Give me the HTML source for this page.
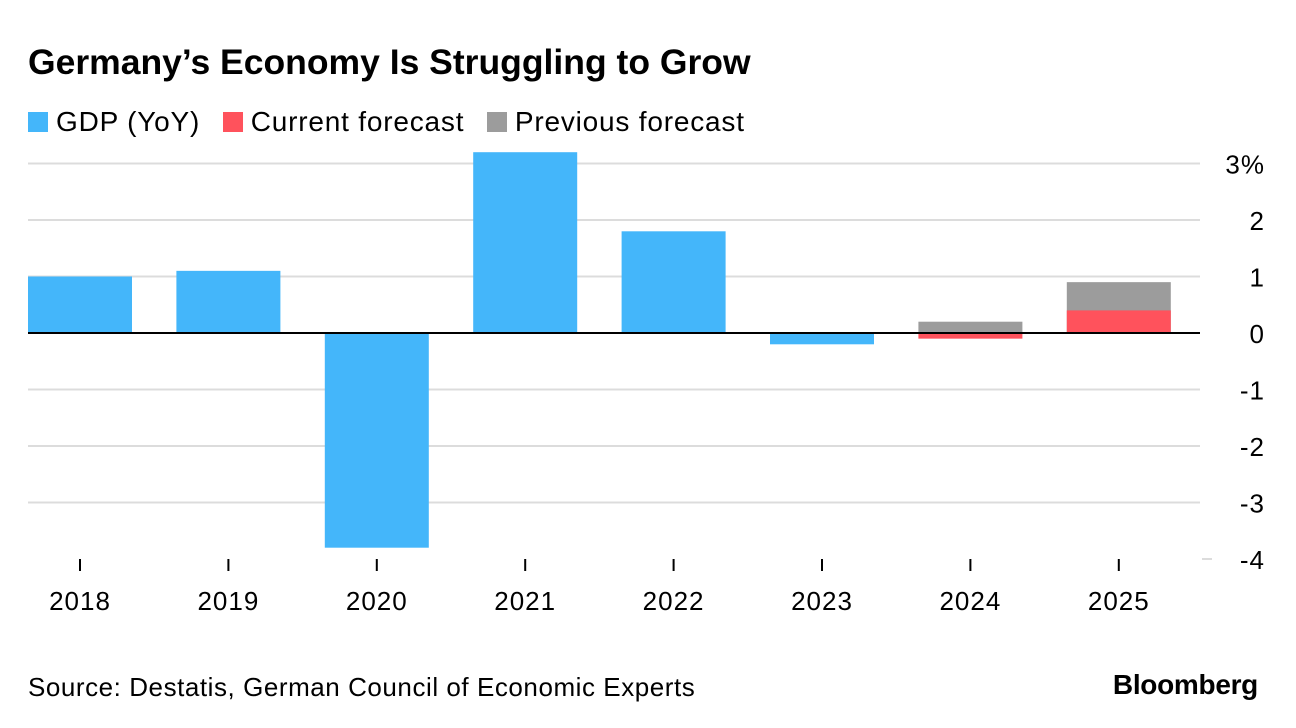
<!DOCTYPE html>
<html><head><meta charset="utf-8"><style>
body{margin:0;background:#fff;font-family:"Liberation Sans",sans-serif;}
#wrap{position:relative;width:1296px;height:728px;overflow:hidden}
.t{position:absolute;white-space:nowrap;color:#000}
</style></head><body>
<div id="wrap">
<div class="t" style="left:28px;top:42px;font-size:35.5px;font-weight:bold">Germany’s Economy Is Struggling to Grow</div>
<div class="t" style="left:28px;top:106px;font-size:28px;letter-spacing:0.8px">
<span><span style="display:inline-block;width:20px;height:20px;background:#44b6fa;vertical-align:-1px;margin-right:8px"></span>GDP (YoY)</span>
<span style="margin-left:14px"><span style="display:inline-block;width:20px;height:20px;background:#ff525c;vertical-align:-1px;margin-right:8px"></span>Current forecast</span>
<span style="margin-left:14px"><span style="display:inline-block;width:20px;height:20px;background:#9c9c9c;vertical-align:-1px;margin-right:8px"></span>Previous forecast</span>
</div>
<svg id="chart" width="1296" height="728" style="position:absolute;left:0;top:0"></svg>
<div class="t" style="left:28px;top:672px;font-size:26px;letter-spacing:0.55px">Source: Destatis, German Council of Economic Experts</div>
<div class="t" style="right:38px;top:669px;font-size:28px;font-weight:bold;letter-spacing:-0.3px">Bloomberg</div>
</div>
<script>
const years=["2018","2019","2020","2021","2022","2023","2024","2025"];
const gdp=[1.0,1.1,-3.8,3.2,1.8,-0.2,null,null];
const currentForecast=[null,null,null,null,null,null,-0.1,0.4];
const previousForecast=[null,null,null,null,null,null,0.2,0.9];
const yTicks=[3,2,1,0,-1,-2,-3,-4];
const yTickLabels=["3%","2","1","0","-1","-2","-3","-4"];
const NS="http://www.w3.org/2000/svg";
const svg=document.getElementById('chart');
const y=v=>333-v*56.5;
const x0=28,step=148.4,bw=104;
const xc=i=>x0+i*step+bw/2;
function mk(t,a){const e=document.createElementNS(NS,t);for(const k in a)e.setAttribute(k,a[k]);svg.appendChild(e);return e;}
yTicks.forEach((v,i)=>{
  if(v!==0&&v!==-4){const g=mk('line',{x1:28,x2:1200,y1:y(v),y2:y(v),stroke:'#dcdcdc','stroke-width':2});
  
  }
  if(v===-4){const g=mk('line',{x1:1202,x2:1212,y1:y(v),y2:y(v),stroke:'#dcdcdc','stroke-width':2});
  
  }
  const t=mk('text',{x:1265,y:y(v)+10,'text-anchor':'end','font-size':26,'letter-spacing':1,'font-family':'Liberation Sans, sans-serif'});
  t.textContent=yTickLabels[i];
  
  
});
function bar(i,v,c,n){if(v==null)return;const r=mk('rect',{x:x0+i*step,y:Math.min(y(v),y(0)),width:bw,height:Math.abs(y(v)-y(0)),fill:c});

}
years.forEach((yr,i)=>{
  bar(i,gdp[i],'#44b6fa','bar-gdp-'+yr);
  bar(i,previousForecast[i],'#9c9c9c','bar-previous-'+yr);
  bar(i,currentForecast[i],'#ff525c','bar-current-'+yr);
  const tk=mk('line',{x1:xc(i),x2:xc(i),y1:559,y2:571,stroke:'#000','stroke-width':2});
  
  
  const t=mk('text',{x:xc(i),y:610,'text-anchor':'middle','font-size':26,'letter-spacing':1,'font-family':'Liberation Sans, sans-serif'});
  t.textContent=yr;
  
  
});
const z=mk('line',{x1:28,x2:1200,y1:y(0),y2:y(0),stroke:'#000','stroke-width':2});


</script>
</body></html>
